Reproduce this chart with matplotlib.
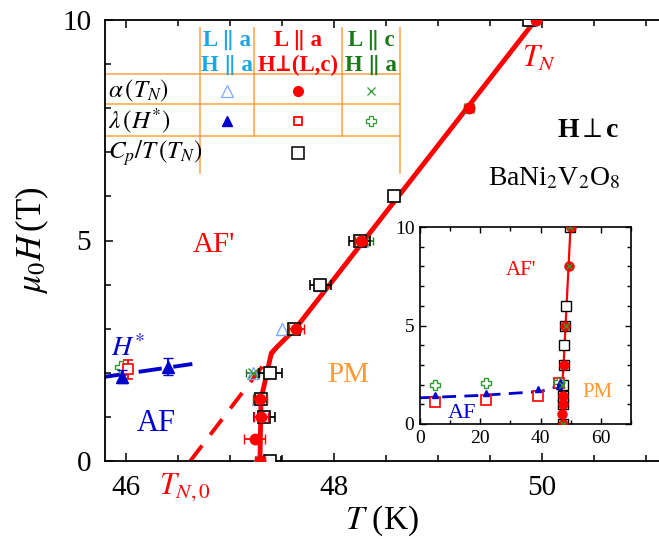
import matplotlib
matplotlib.use("Agg")
import matplotlib.pyplot as plt
import numpy as np

plt.rcParams['font.family'] = ['Liberation Serif', 'STIXGeneral', 'DejaVu Serif']
plt.rcParams['mathtext.fontset'] = 'stix'

# alpha(T_N), L||a, H perp (L,c)  -- red filled circles
T_circ = [47.29, 47.24, 47.30, 47.29, 47.64, 48.26, 49.30, 49.94]
H_circ = [0.0, 0.5, 1.0, 1.4, 3.0, 5.0, 8.0, 10.0]
dT_circ = [0.05, 0.10, 0.07, 0.07, 0.07, 0.06, 0.03, 0.03]

# Cp/T(T_N) -- black open squares
T_cp = [47.39, 47.33, 47.30, 47.39, 47.62, 47.87, 48.25, 48.58, 49.88]
H_cp = [0.0, 1.0, 1.4, 2.0, 3.0, 4.0, 5.0, 6.0, 10.0]
dT_cp = [0.10, 0.10, 0.05, 0.11, 0.05, 0.10, 0.10, 0.0, 0.04]

# alpha(T_N), L||a, H||a -- light blue open triangles
T_tri = [47.26, 47.27, 47.22, 47.50, 47.87, 48.27, 49.90]
H_tri = [0.0, 1.4, 2.0, 3.0, 4.0, 5.0, 10.0]

# alpha(T_N), L||c, H||a -- green crosses
T_x = [47.29, 47.22, 48.30, 49.30, 49.86]
H_x = [0.0, 2.0, 5.0, 8.0, 10.0]
dT_x = [0.03, 0.06, 0.08, 0.05, 0.03]

# lambda(H*) points
T_lam_blue = [5.1, 21.9, 39.3, 45.96, 46.41]
H_lam_blue = [1.47, 1.59, 1.76, 1.91, 2.14]
dH_lam_blue = [0.0, 0.0, 0.0, 0.15, 0.2]
T_lam_red = [5.1, 21.9, 39.3, 46.02]
H_lam_red = [1.13, 1.22, 1.42, 2.08]
dH_lam_red = [0.0, 0.0, 0.0, 0.22]
T_lam_green = [5.1, 21.9, 45.95]
H_lam_green = [1.98, 2.09, 2.14]

# guide lines
T_bound = [47.29, 47.30, 47.40, 47.46, 47.63, 49.94]
H_bound = [0.0, 1.4, 2.45, 2.6, 3.0, 10.0]
T_extra = [46.62, 47.46]
H_extra = [0.0, 2.6]
T_hstar = [0.0, 20.0, 40.0, 45.8, 46.64]
H_hstar = [1.33, 1.45, 1.65, 1.91, 2.2]

RED = '#FF0000'
LBLUE = '#7FA8FF'
BLUE = '#0000CC'
GREEN = '#2E9A2E'
DGREEN = '#1A7A1A'
ORANGE = '#FF9933'
TBLUE = '#1CA6E3'

fig = plt.figure(figsize=(6.59, 5.39), dpi=100)
ax = fig.add_axes([105/659, 78/539, 554/659, 441/539])

ax.plot(T_bound, H_bound, color=RED, lw=3.5, zorder=2, solid_capstyle='butt')
ax.plot(T_extra, H_extra, color=RED, lw=2.8, ls=(0, (5, 3.5)), zorder=2)
ax.plot(T_hstar, H_hstar, color=BLUE, lw=2.8, ls=(0, (6, 3)), zorder=2)

ax.errorbar(T_tri, H_tri, fmt='^', ms=8.5, mfc='none', mec=LBLUE, mew=1.0, ecolor=LBLUE, zorder=3)
ax.errorbar(T_x, H_x, xerr=dT_x, fmt='x', ms=6.5, color=GREEN, mew=1.0, ecolor=DGREEN,
            capsize=3, elinewidth=1.2, zorder=3)
ax.errorbar(T_cp, H_cp, xerr=dT_cp, fmt='s', ms=8.5, mfc='white', mec='black', mew=1.2,
            ecolor='black', capsize=3.5, elinewidth=1.3, zorder=4)
ax.errorbar(T_circ, H_circ, xerr=dT_circ, fmt='o', ms=7.5, color=RED, ecolor=RED,
            capsize=3.5, elinewidth=1.3, zorder=5)
ax.errorbar(T_lam_green, H_lam_green, fmt='P', ms=8, mfc='none', mec=GREEN, mew=1.0, zorder=3)
ax.errorbar(T_lam_red, H_lam_red, yerr=dH_lam_red, fmt='s', ms=7, mfc='white', mec=RED, mew=1.2,
            ecolor=RED, capsize=3.5, elinewidth=1.3, zorder=3)
ax.errorbar(T_lam_blue, H_lam_blue, yerr=dH_lam_blue, fmt='^', ms=8, color=BLUE, ecolor=BLUE,
            capsize=3.5, elinewidth=1.3, zorder=4)

ax.set_xlim(45.8, 45.8 + 554/104)
ax.set_ylim(0, 10)
ax.set_xticks([46, 48, 50])
ax.set_xticks(np.arange(46, 51.01, 0.5), minor=True)
ax.set_yticks([0, 5, 10])
ax.set_yticks(np.arange(0, 10.01, 1), minor=True)
ax.tick_params(which='both', direction='in', top=True, right=False, labelsize=21, width=1.1)
ax.tick_params(which='major', length=6, pad=10)
ax.tick_params(which='minor', length=4)
for s in ax.spines.values():
    s.set_linewidth(1.3)
ax.spines['right'].set_visible(False)
ax.set_xlabel(r'$T$ (K)', fontsize=24, labelpad=2)
ax.set_ylabel(r'$\mu_0H\,$(T)', fontsize=25, labelpad=8)

ax.text(46.85, 4.9, "AF'", color=RED, fontsize=21, ha='center', va='center')
ax.text(48.14, 1.95, 'PM', color=ORANGE, fontsize=21, ha='center', va='center')
ax.text(46.29, 0.84, 'AF', color=BLUE, fontsize=22, ha='center', va='center')
ax.text(45.86, 2.55, r'$H^{*}$', color=BLUE, fontsize=20, ha='left', va='center')
ax.text(49.98, 9.1, r'$T_N$', color=RED, fontsize=22, ha='center', va='center')
ax.text(50.45, 7.5, r'H$\perp$c', fontsize=20, fontweight='bold', ha='center', va='center')
ax.text(50.12, 6.4, r'BaNi$_2$V$_2$O$_8$', fontsize=20, ha='center', va='center')
ax.text(46.32, -0.6, r'$T_{N,0}$', color=RED, fontsize=22, ha='left', va='center', clip_on=False)

# legend table
tr = ax.transAxes
fx = lambda px: (px - 105) / 554.0
fy = lambda py: (461 - py) / 441.0
xv = [fx(200), fx(254), fx(342), fx(400)]
yt, yb, ym = fy(28), fy(173), fy(136)
ax.plot([xv[0], xv[0]], [yb, yt], color=ORANGE, lw=1.2, transform=tr, alpha=0.85)
ax.plot([xv[3], xv[3]], [yb, yt], color=ORANGE, lw=1.2, transform=tr, alpha=0.85)
for xx in xv[1:3]:
    ax.plot([xx, xx], [ym, yt], color=ORANGE, lw=1.2, transform=tr, alpha=0.85)
for yy in [fy(74), fy(104), fy(136)]:
    ax.plot([0, xv[3]], [yy, yy], color=ORANGE, lw=1.2, transform=tr, alpha=0.85)

cols = [fx(227), fx(298), fx(371)]
heads = [('L ∥ a', 'H ∥ a', TBLUE), ('L ∥ a', 'H⊥(L,c)', RED), ('L ∥ c', 'H ∥ a', DGREEN)]
for cx, (h1, h2, c) in zip(cols, heads):
    ax.text(cx, fy(40), h1, transform=tr, color=c, fontsize=16.5, fontweight='bold', ha='center', va='center')
    ax.text(cx, fy(65), h2, transform=tr, color=c, fontsize=16.5, fontweight='bold', ha='center', va='center')
rows_y = [fy(91), fy(121), fy(153)]
row_lab = [r'$\alpha\,(T_N)$', r'$\lambda\,(H^{*})$', r'$C_p/T\,(T_N)$']
for yy, lab in zip(rows_y, row_lab):
    ax.text(0.006, yy, lab, transform=tr, fontsize=18, ha='left', va='center')
ax.plot(cols[0], rows_y[0], '^', ms=8, mfc='none', mec=LBLUE, mew=0.9, transform=tr)
ax.plot(cols[1], rows_y[0], 'o', ms=7, color=RED, transform=tr)
ax.plot(cols[2], rows_y[0], 'x', ms=6, color=GREEN, mew=0.9, transform=tr)
ax.plot(cols[0], rows_y[1], '^', ms=7, color=BLUE, transform=tr)
ax.plot(cols[1], rows_y[1], 's', ms=5.5, mfc='white', mec=RED, mew=1.3, transform=tr)
ax.plot(cols[2], rows_y[1], 'P', ms=7, mfc='none', mec=GREEN, mew=0.9, transform=tr)
ax.plot(cols[1], rows_y[2], 's', ms=8, mfc='white', mec='black', mew=1.1, transform=tr)

# inset
axi = fig.add_axes([420/659, 115/539, 211/659, 197/539])
axi.plot(T_bound, H_bound, color=RED, lw=1.6, zorder=2)
axi.plot(T_hstar, H_hstar, color=BLUE, lw=2.0, ls=(0, (5, 3)), zorder=2)
axi.plot(T_tri, H_tri, '^', ms=6, mfc='none', mec=LBLUE, mew=1.0, zorder=3)
axi.plot(T_cp, H_cp, 's', ms=6.5, mfc='white', mec='black', mew=1.0, zorder=3)
axi.plot(T_circ, H_circ, 'o', ms=6.5, color=RED, zorder=4)
axi.plot(T_x, H_x, 'x', ms=5, color=GREEN, mew=1.0, zorder=5)
axi.plot(T_lam_red, H_lam_red, 's', ms=7, mfc='white', mec=RED, mew=1.2, zorder=3)
axi.plot(T_lam_green, H_lam_green, 'P', ms=7.5, mfc='none', mec=GREEN, mew=1.0, zorder=3)
axi.plot(T_lam_blue, H_lam_blue, '^', ms=5, color=BLUE, zorder=3)
axi.set_xlim(0, 70)
axi.set_ylim(0, 10)
axi.set_xticks([0, 20, 40, 60])
axi.set_xticks(np.arange(0, 70.1, 10), minor=True)
axi.set_yticks([0, 5, 10])
axi.set_yticks(np.arange(0, 10.1, 1), minor=True)
axi.tick_params(which='both', direction='in', top=True, right=True, labelsize=14, width=1.0)
axi.tick_params(which='major', length=4.5, pad=4)
axi.tick_params(which='minor', length=3)
for s in axi.spines.values():
    s.set_linewidth(1.2)
axi.text(33.4, 7.8, "AF'", color=RED, fontsize=15, ha='center', va='center')
axi.text(59, 1.6, 'PM', color=ORANGE, fontsize=15, ha='center', va='center')
axi.text(13.8, 0.55, 'AF', color=BLUE, fontsize=16, ha='center', va='center')

fig.savefig('out.png', dpi=100)
